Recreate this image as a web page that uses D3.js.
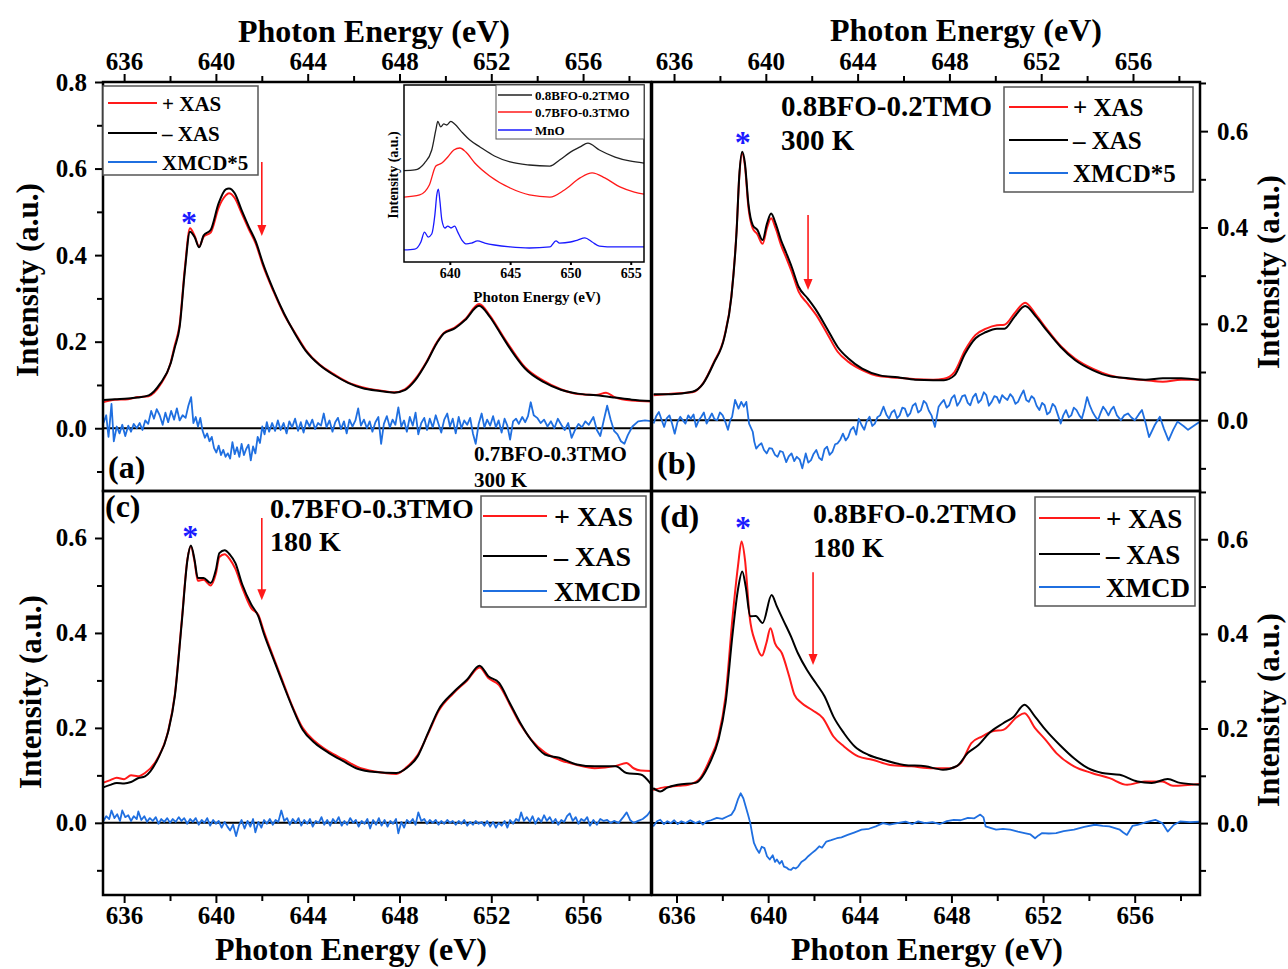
<!DOCTYPE html>
<html>
<head>
<meta charset="utf-8">
<script src="https://cdn.jsdelivr.net/npm/d3@7"></script>
<style>
	body { margin: 0; background: #fff; }
	svg { display: block; }
</style>
</head>
<body>
<svg id="fig" width="1288" height="969"></svg>
<script>
(function() {
	'use strict';

	// ---- tick values and labels ----
	var energyTicks = [636, 640, 644, 648, 652, 656];
	var energyMinor = [638, 642, 646, 650, 654, 658];
	var intensityTicks = [0, 0.2, 0.4, 0.6, 0.8];
	var intensityMinor = [-0.1, 0.1, 0.3, 0.5, 0.7];
	var insetTicks = [640, 645, 650, 655];
	var axisTitle = 'Photon Energy (eV)';
	var yTitle = 'Intensity (a.u.)';
	var panelLabels = ['(a)', '(b)', '(c)', '(d)'];
	var sampleNames = ['0.7BFO-0.3TMO', '0.8BFO-0.2TMO', '0.7BFO-0.3TMO', '0.8BFO-0.2TMO'];
	var temperatures = ['300 K', '300 K', '180 K', '180 K'];
	var seriesNames = [
		['+ XAS', '\u2013 XAS', 'XMCD*5'],
		['+ XAS', '\u2013 XAS', 'XMCD*5'],
		['+ XAS', '\u2013 XAS', 'XMCD'],
		['+ XAS', '\u2013 XAS', 'XMCD']
	];
	var insetNames = ['0.8BFO-0.2TMO', '0.7BFO-0.3TMO', 'MnO'];

	// Mn2+ peak (*) and shoulder (arrow) markers: [energy, value]
	var starMarks = [[638.83, 0.486], [638.99, 0.586], [638.88, 0.613], [638.9, 0.634]];
	var arrowMarks = [[642.0, 0.615, 0.444], [641.84, 0.426, 0.27], [642.0, 0.642, 0.469], [641.96, 0.53, 0.334]];

	// ---- (a) 0.7BFO-0.3TMO, 300 K ----
	var aPlus = [[635.07,0.06],[635.6,0.066],[636.17,0.067],[636.6,0.072],[637.07,0.074],[637.3,0.082],[637.57,0.1],[638.03,0.152],[638.2,0.19],[638.42,0.24],[638.65,0.372],[638.87,0.462],[639.07,0.445],[639.27,0.42],[639.47,0.443],[639.77,0.452],[640.12,0.51],[640.43,0.538],[640.57,0.543],[640.82,0.532],[641.12,0.497],[641.43,0.46],[641.74,0.426],[642.05,0.376],[642.51,0.316],[642.97,0.263],[643.44,0.221],[643.9,0.182],[644.52,0.147],[645.14,0.125],[645.76,0.106],[646.37,0.095],[647.15,0.087],[647.77,0.083],[648.23,0.09],[648.69,0.114],[649.16,0.152],[649.62,0.198],[649.93,0.22],[650.39,0.232],[650.86,0.252],[651.47,0.287],[651.94,0.26],[652.4,0.222],[652.87,0.184],[653.47,0.141],[654.27,0.11],[655.03,0.09],[655.77,0.079],[656.57,0.077],[657.0,0.082],[657.37,0.072],[658.12,0.064],[659.0,0.062]];
	var aMinus = [[635.07,0.065],[635.6,0.067],[636.17,0.069],[636.6,0.071],[637.07,0.076],[637.3,0.085],[637.57,0.103],[638.03,0.15],[638.2,0.185],[638.42,0.234],[638.65,0.365],[638.87,0.454],[639.07,0.442],[639.27,0.418],[639.47,0.446],[639.77,0.458],[640.12,0.52],[640.43,0.552],[640.57,0.554],[640.82,0.543],[641.12,0.504],[641.43,0.466],[641.74,0.431],[642.05,0.381],[642.51,0.319],[642.97,0.265],[643.44,0.219],[643.9,0.18],[644.52,0.146],[645.14,0.123],[645.76,0.105],[646.37,0.093],[647.15,0.086],[647.77,0.082],[648.23,0.088],[648.69,0.111],[649.16,0.15],[649.62,0.196],[649.93,0.219],[650.39,0.23],[650.86,0.25],[651.47,0.283],[651.94,0.257],[652.4,0.219],[652.87,0.18],[653.47,0.138],[654.27,0.107],[655.03,0.089],[655.77,0.08],[656.57,0.076],[657.37,0.071],[658.12,0.066],[659.0,0.063]];
	var aXmcd = [[635.1,0.012],[635.22,0.03],[635.32,-0.02],[635.45,0.056],[635.55,-0.03],[635.68,0.004],[635.8,-0.012],[635.92,0.008],[636.05,-0.018],[636.18,0.006],[636.3,-0.008],[636.42,0.01],[636.55,0],[636.68,0.012],[636.8,-0.004],[636.92,0.018],[637.05,0.01],[637.18,0.04],[637.3,0.022],[637.42,0.044],[637.55,0.03],[637.68,0.008],[637.8,0.036],[637.92,0.014],[638.05,0.04],[638.18,0.02],[638.3,0.046],[638.42,0.018],[638.55,0.03],[638.68,0.024],[638.8,0.052],[638.92,0.072],[639.02,0.012],[639.12,0.026],[639.22,0.004],[639.32,0.024],[639.42,-0.006],[639.52,-0.022],[639.62,-0.012],[639.72,-0.03],[639.82,-0.02],[639.92,-0.046],[640.02,-0.056],[640.12,-0.04],[640.22,-0.062],[640.32,-0.05],[640.42,-0.066],[640.52,-0.058],[640.62,-0.07],[640.72,-0.032],[640.82,-0.06],[640.92,-0.044],[641.02,-0.066],[641.12,-0.036],[641.22,-0.062],[641.32,-0.048],[641.42,-0.038],[641.52,-0.074],[641.62,-0.042],[641.72,-0.058],[641.82,-0.02],[641.92,-0.034],[642.02,0.004],[642.12,-0.014],[642.22,0.014],[642.32,-0.008],[642.45,0.012],[642.58,-0.006],[642.7,0.018],[642.82,-0.004],[642.95,0.012],[643.08,-0.012],[643.2,0.016],[643.32,0.002],[643.45,0.022],[643.58,-0.006],[643.7,0.014],[643.82,-0.01],[643.95,0.018],[644.08,0.004],[644.2,0.02],[644.32,-0.002],[644.45,0.012],[644.58,0.006],[644.7,0.034],[644.82,0.002],[644.95,0.018],[645.08,-0.008],[645.2,0.014],[645.32,0.024],[645.45,-0.002],[645.58,0.016],[645.7,-0.012],[645.82,0.02],[645.95,0.004],[646.08,0.018],[646.2,0.046],[646.32,0.006],[646.45,0.02],[646.58,0],[646.7,0.016],[646.82,-0.008],[646.95,0.014],[647.08,0.026],[647.2,-0.036],[647.32,0.01],[647.45,0.028],[647.58,0.002],[647.7,0.02],[647.82,0.008],[647.95,0.048],[648.08,0.004],[648.2,0.018],[648.32,-0.008],[648.45,0.026],[648.58,0.006],[648.7,0.036],[648.82,-0.014],[648.95,0.012],[649.08,0.024],[649.2,-0.004],[649.32,0.022],[649.45,0.002],[649.58,0.03],[649.7,0.01],[649.82,-0.01],[649.95,0.02],[650.08,0.034],[650.2,0.004],[650.32,0.022],[650.45,-0.012],[650.58,0.026],[650.7,0],[650.82,0.018],[650.95,0.008],[651.08,0.024],[651.2,-0.012],[651.32,-0.036],[651.45,0.01],[651.58,0.034],[651.7,0.002],[651.82,0.02],[651.95,0.006],[652.08,0.028],[652.2,0.002],[652.32,0.018],[652.45,-0.01],[652.58,0.022],[652.7,0.006],[652.82,-0.026],[652.95,0.016],[653.08,0.022],[653.2,0.01],[653.35,0.026],[653.48,0.014],[653.6,0.028],[653.72,0.06],[653.85,0.03],[654.0,0.024],[654.15,0.012],[654.3,0.02],[654.45,0.004],[654.6,0.016],[654.75,0],[654.9,0.022],[655.05,0.008],[655.2,-0.004],[655.35,0.012],[655.5,-0.022],[655.65,-0.004],[655.8,0.01],[655.95,0.002],[656.1,0.016],[656.25,0.008],[656.45,0.026],[656.6,-0.004],[656.75,-0.018],[656.9,0.018],[657.05,0.052],[657.2,0.02],[657.35,-0.006],[657.5,-0.014],[657.65,-0.03],[657.8,-0.036],[657.95,-0.016],[658.15,0.004],[658.4,0.016],[658.7,0.018],[659.0,0.016]];

	// ---- (b) 0.8BFO-0.2TMO, 300 K ----
	var bPlus = [[635.11,0.052],[635.88,0.055],[636.8,0.058],[637.27,0.077],[637.73,0.12],[638.2,0.175],[638.5,0.258],[638.73,0.398],[638.84,0.503],[638.97,0.553],[639.09,0.528],[639.24,0.442],[639.43,0.398],[639.63,0.386],[639.86,0.366],[640.05,0.399],[640.23,0.419],[640.43,0.398],[640.66,0.364],[640.9,0.336],[641.13,0.308],[641.43,0.267],[641.82,0.242],[642.2,0.218],[642.67,0.18],[643.13,0.142],[643.6,0.121],[644.2,0.104],[644.98,0.091],[645.75,0.088],[646.52,0.085],[647.29,0.084],[647.76,0.086],[648.22,0.1],[648.68,0.145],[649.14,0.177],[649.6,0.19],[650.07,0.197],[650.4,0.198],[650.84,0.222],[651.3,0.244],[651.77,0.219],[652.23,0.19],[652.85,0.154],[653.47,0.128],[654.24,0.107],[655.0,0.093],[655.8,0.086],[656.55,0.083],[657.3,0.08],[658.1,0.084],[658.95,0.084]];
	var bMinus = [[635.11,0.054],[635.88,0.054],[636.8,0.059],[637.27,0.076],[637.73,0.118],[638.2,0.173],[638.5,0.256],[638.73,0.395],[638.84,0.505],[638.97,0.557],[639.09,0.533],[639.24,0.45],[639.43,0.405],[639.63,0.395],[639.86,0.374],[640.05,0.408],[640.23,0.429],[640.43,0.408],[640.66,0.374],[640.9,0.346],[641.13,0.318],[641.43,0.277],[641.82,0.253],[642.2,0.228],[642.67,0.19],[643.13,0.152],[643.6,0.128],[644.2,0.107],[644.98,0.093],[645.75,0.089],[646.52,0.084],[647.29,0.083],[647.76,0.083],[648.22,0.093],[648.68,0.138],[649.14,0.17],[649.6,0.183],[650.07,0.19],[650.4,0.19],[650.84,0.215],[651.3,0.237],[651.77,0.215],[652.23,0.187],[652.85,0.152],[653.47,0.125],[654.24,0.104],[655.0,0.091],[655.8,0.087],[656.55,0.084],[657.3,0.087],[658.1,0.087],[658.95,0.083]];
	var bXmcd = [[635.11,-0.007],[635.22,0.008],[635.34,0.017],[635.45,0.002],[635.57,-0.014],[635.68,0.004],[635.8,0.01],[635.92,-0.008],[636.03,-0.028],[636.15,-0.004],[636.27,0.007],[636.38,0.0],[636.5,-0.007],[636.62,0.01],[636.73,0.003],[636.85,0.012],[636.96,-0.014],[637.08,0.0],[637.19,0.007],[637.3,0.016],[637.42,-0.007],[637.54,0.004],[637.65,0.014],[637.76,0.002],[637.88,0],[638.0,0.016],[638.12,0.01],[638.24,-0.004],[638.35,-0.02],[638.45,0.0],[638.53,0.007],[638.66,0.042],[638.81,0.024],[638.93,0.038],[639.04,0.028],[639.15,0.038],[639.27,-0.007],[639.43,-0.024],[639.5,-0.045],[639.58,-0.059],[639.7,-0.052],[639.81,-0.048],[639.92,-0.062],[640.04,-0.069],[640.15,-0.058],[640.27,-0.059],[640.4,-0.072],[640.51,-0.076],[640.62,-0.064],[640.74,-0.066],[640.89,-0.087],[641.0,-0.075],[641.12,-0.069],[641.24,-0.085],[641.35,-0.076],[641.48,-0.082],[641.59,-0.1],[641.74,-0.069],[641.85,-0.088],[641.97,-0.083],[642.08,-0.07],[642.2,-0.062],[642.32,-0.078],[642.44,-0.083],[642.56,-0.06],[642.67,-0.055],[642.78,-0.072],[642.9,-0.066],[643.02,-0.05],[643.13,-0.048],[643.25,-0.04],[643.36,-0.028],[643.48,-0.042],[643.59,-0.035],[643.7,-0.02],[643.82,-0.014],[643.94,-0.03],[644.05,0.003],[644.17,-0.01],[644.29,-0.02],[644.4,-0.002],[644.52,0.007],[644.64,-0.012],[644.75,-0.007],[644.86,0.006],[644.98,0.01],[645.13,0.028],[645.25,0.012],[645.37,0.003],[645.48,0.016],[645.6,0.021],[645.72,0.004],[645.83,0.01],[645.95,0.026],[646.06,0.024],[646.18,0.008],[646.29,0.014],[646.4,0.03],[646.52,0.035],[646.64,0.016],[646.76,0.021],[646.88,0.04],[646.99,0.035],[647.1,0.02],[647.22,0.01],[647.37,-0.014],[647.53,0.028],[647.65,0.036],[647.76,0.042],[647.88,0.026],[647.99,0.031],[648.1,0.046],[648.22,0.052],[648.34,0.03],[648.45,0.038],[648.56,0.05],[648.68,0.052],[648.8,0.036],[648.91,0.031],[649.03,0.048],[649.15,0.055],[649.26,0.036],[649.38,0.042],[649.5,0.058],[649.61,0.052],[649.72,0.03],[649.84,0.038],[649.96,0.05],[650.07,0.048],[650.18,0.036],[650.3,0.052],[650.42,0.046],[650.53,0.042],[650.65,0.054],[650.76,0.048],[650.88,0.034],[650.99,0.038],[651.1,0.05],[651.23,0.062],[651.35,0.042],[651.46,0.038],[651.58,0.05],[651.69,0.045],[651.8,0.03],[651.92,0.021],[652.04,0.036],[652.15,0.031],[652.26,0.012],[652.38,0.017],[652.5,0.034],[652.61,0.028],[652.72,0.012],[652.85,-0.007],[652.96,0.01],[653.08,0.021],[653.2,0.006],[653.31,0.01],[653.42,0.026],[653.54,0.021],[653.66,0.01],[653.77,0.003],[653.88,0.022],[654.0,0.048],[654.12,0.03],[654.24,0.017],[654.35,0.008],[654.47,0],[654.58,0.014],[654.7,0.028],[654.82,0.02],[654.93,0.01],[655.05,0.022],[655.16,0.028],[655.3,0.01],[655.47,0],[655.62,0.01],[655.78,0.014],[655.92,0.006],[656.08,0],[656.25,0.012],[656.39,0.021],[656.55,-0.006],[656.7,-0.035],[656.95,-0.01],[657.17,0.007],[657.35,-0.018],[657.55,-0.042],[657.75,-0.02],[657.94,-0.003],[658.2,-0.012],[658.4,-0.02],[658.7,-0.01],[659.02,0]];

	// ---- (c) 0.7BFO-0.3TMO, 180 K ----
	var cPlus = [[635.06,0.084],[635.4,0.09],[635.68,0.095],[636.0,0.092],[636.3,0.1],[636.6,0.098],[636.91,0.105],[637.45,0.135],[637.91,0.192],[638.21,0.27],[638.51,0.425],[638.76,0.556],[638.91,0.582],[639.07,0.55],[639.21,0.51],[639.46,0.512],[639.77,0.5],[640.0,0.525],[640.15,0.56],[640.38,0.566],[640.61,0.555],[640.85,0.535],[641.15,0.495],[641.54,0.452],[641.85,0.438],[642.08,0.405],[642.46,0.355],[642.85,0.306],[643.31,0.248],[643.78,0.2],[644.31,0.172],[644.93,0.15],[645.55,0.134],[646.17,0.118],[646.94,0.108],[647.86,0.103],[648.33,0.118],[648.79,0.143],[649.25,0.188],[649.71,0.236],[650.33,0.272],[650.95,0.3],[651.49,0.327],[651.87,0.305],[652.34,0.29],[652.8,0.25],[653.26,0.208],[653.73,0.176],[654.34,0.148],[654.96,0.133],[655.73,0.122],[656.51,0.115],[657.43,0.12],[657.89,0.126],[658.2,0.115],[658.51,0.11],[658.97,0.109]];
	var cMinus = [[635.06,0.074],[635.4,0.08],[635.68,0.084],[636.0,0.083],[636.3,0.086],[636.6,0.094],[636.91,0.098],[637.45,0.133],[637.91,0.19],[638.21,0.267],[638.51,0.421],[638.76,0.554],[638.91,0.584],[639.07,0.554],[639.21,0.516],[639.46,0.516],[639.77,0.505],[640.0,0.533],[640.15,0.568],[640.38,0.574],[640.61,0.565],[640.85,0.547],[641.15,0.502],[641.54,0.46],[641.85,0.435],[642.08,0.4],[642.46,0.351],[642.85,0.302],[643.31,0.246],[643.78,0.196],[644.31,0.168],[644.93,0.147],[645.55,0.13],[646.17,0.114],[646.94,0.107],[647.86,0.105],[648.33,0.116],[648.79,0.14],[649.25,0.19],[649.71,0.239],[650.33,0.274],[650.95,0.302],[651.49,0.331],[651.87,0.309],[652.34,0.295],[652.8,0.253],[653.26,0.211],[653.73,0.175],[654.34,0.144],[654.96,0.137],[655.73,0.123],[656.51,0.119],[657.43,0.119],[657.89,0.105],[658.51,0.102],[658.97,0.081]];
	var cXmcd = [[635.1,0.004],[635.22,0.014],[635.35,0.008],[635.45,0.026],[635.58,0.01],[635.7,0.018],[635.82,0.004],[635.92,0.026],[636.05,0.012],[636.18,0.016],[636.3,0.004],[636.42,0.014],[636.55,0.008],[636.62,0.024],[636.75,0.006],[636.88,0.014],[637.0,0.002],[637.12,0.01],[637.25,0.004],[637.38,0.012],[637.5,-0.002],[637.62,0.008],[637.75,0.002],[637.88,0.01],[638.0,0],[638.12,0.008],[638.25,0.002],[638.38,0.012],[638.5,0.004],[638.62,0.01],[638.75,-0.002],[638.88,0.008],[639.0,0.002],[639.12,0.01],[639.25,-0.004],[639.38,0.006],[639.5,0],[639.62,0.01],[639.75,-0.006],[639.88,0.006],[640.0,-0.002],[640.12,0.004],[640.25,-0.01],[640.38,0.002],[640.5,-0.008],[640.62,-0.016],[640.75,-0.004],[640.88,-0.028],[641.0,-0.006],[641.12,0.006],[641.25,-0.012],[641.38,0.004],[641.5,-0.008],[641.62,0.008],[641.72,-0.02],[641.85,0.002],[641.98,-0.01],[642.1,0.006],[642.22,-0.002],[642.35,0.008],[642.48,-0.004],[642.6,0.006],[642.72,0.002],[642.85,0.026],[642.98,0.004],[643.1,0.01],[643.22,-0.004],[643.35,0.008],[643.48,0],[643.6,0.01],[643.72,-0.006],[643.85,0.006],[643.98,-0.002],[644.1,0.008],[644.22,-0.008],[644.35,0.004],[644.48,0],[644.6,0.012],[644.72,-0.004],[644.85,0.006],[644.98,-0.006],[645.1,0.008],[645.22,0],[645.35,0.012],[645.48,-0.006],[645.6,0.004],[645.72,-0.004],[645.85,0.01],[645.98,0],[646.1,0.006],[646.22,-0.008],[646.35,0.004],[646.48,-0.002],[646.6,0.008],[646.72,-0.012],[646.85,0.006],[646.98,-0.004],[647.1,0.01],[647.22,-0.006],[647.35,0.006],[647.48,-0.008],[647.6,0.004],[647.72,-0.002],[647.85,0.008],[647.95,-0.022],[648.08,0.002],[648.2,-0.01],[648.32,0.006],[648.45,0],[648.58,0.008],[648.7,-0.004],[648.82,0.022],[648.95,0.004],[649.08,0.008],[649.2,-0.002],[649.32,0.006],[649.45,0],[649.58,0.006],[649.7,-0.004],[649.82,0.004],[649.95,-0.002],[650.08,0.006],[650.2,0],[650.32,0.004],[650.45,-0.004],[650.58,0.004],[650.7,-0.002],[650.82,0.006],[650.95,-0.006],[651.08,0.002],[651.2,-0.004],[651.32,0.004],[651.45,-0.002],[651.58,0.002],[651.7,-0.006],[651.82,0.004],[651.95,-0.008],[652.08,0.002],[652.2,-0.01],[652.32,0],[652.45,-0.006],[652.58,0.004],[652.7,-0.01],[652.82,0.006],[652.95,-0.002],[653.08,0.008],[653.2,0.004],[653.3,0.022],[653.42,0.004],[653.55,0.012],[653.68,0.002],[653.8,0.014],[653.92,-0.002],[654.05,0.01],[654.18,0.002],[654.3,0.016],[654.42,0.004],[654.55,0.012],[654.68,0],[654.8,0.008],[654.92,-0.004],[655.05,0.006],[655.18,0.002],[655.3,0.014],[655.42,0.02],[655.55,0.004],[655.68,0.012],[655.8,-0.002],[655.92,0.008],[656.05,0.004],[656.18,0.012],[656.3,-0.006],[656.45,0.006],[656.6,-0.004],[656.75,0.008],[656.9,0.004],[657.05,0.006],[657.2,0],[657.35,0.004],[657.55,0],[657.75,0.012],[657.9,0.022],[658.05,0.006],[658.2,0],[658.4,0.004],[658.6,0.008],[658.8,0.016],[658.95,0.026]];

	// ---- (d) 0.8BFO-0.2TMO, 180 K ----
	var dPlus = [[634.98,0.07],[635.4,0.075],[635.75,0.077],[636.1,0.079],[636.52,0.081],[636.98,0.092],[637.45,0.134],[637.83,0.183],[638.14,0.268],[638.45,0.437],[638.68,0.542],[638.84,0.595],[638.99,0.556],[639.19,0.437],[639.46,0.38],[639.73,0.354],[639.92,0.38],[640.1,0.412],[640.3,0.38],[640.6,0.359],[640.92,0.31],[641.15,0.271],[641.46,0.254],[641.92,0.239],[642.39,0.222],[642.85,0.183],[643.31,0.162],[643.93,0.141],[644.55,0.134],[645.32,0.123],[646.25,0.12],[647.18,0.116],[647.95,0.116],[648.41,0.127],[648.87,0.169],[649.33,0.183],[649.8,0.194],[650.26,0.197],[650.88,0.225],[651.19,0.232],[651.65,0.201],[652.11,0.176],[652.58,0.148],[653.35,0.12],[654.12,0.106],[654.9,0.095],[655.67,0.081],[656.43,0.088],[657.2,0.088],[657.67,0.079],[658.9,0.083]];
	var dMinus = [[634.98,0.074],[635.29,0.067],[635.6,0.075],[636.06,0.081],[636.83,0.085],[637.45,0.127],[637.83,0.176],[638.14,0.254],[638.45,0.401],[638.68,0.493],[638.87,0.532],[639.02,0.5],[639.22,0.437],[639.46,0.438],[639.76,0.423],[640.15,0.482],[640.38,0.458],[640.69,0.426],[641.0,0.394],[641.3,0.359],[641.69,0.324],[642.08,0.296],[642.46,0.268],[642.85,0.225],[643.31,0.19],[643.78,0.162],[644.39,0.144],[645.01,0.134],[645.93,0.123],[646.86,0.12],[647.63,0.113],[648.25,0.121],[648.71,0.148],[649.18,0.165],[649.64,0.19],[650.26,0.211],[650.72,0.225],[651.19,0.25],[651.65,0.225],[652.11,0.197],[652.73,0.165],[653.35,0.137],[653.96,0.116],[654.58,0.106],[655.35,0.102],[656.12,0.088],[656.74,0.085],[657.44,0.093],[657.98,0.085],[658.9,0.081]];
	var dXmcd = [[634.98,-0.007],[635.15,0.004],[635.29,0.007],[635.45,-0.002],[635.6,0.004],[635.75,0],[635.9,0.006],[636.05,-0.002],[636.21,0.004],[636.4,0],[636.6,0.006],[636.83,0],[637.0,0.004],[637.15,-0.003],[637.29,0.003],[637.5,0.006],[637.76,0.011],[638.0,0.009],[638.22,0.014],[638.4,0.018],[638.53,0.028],[638.68,0.05],[638.8,0.063],[638.92,0.052],[639.02,0.035],[639.12,0.018],[639.22,0],[639.3,-0.022],[639.38,-0.042],[639.5,-0.055],[639.61,-0.063],[639.72,-0.05],[639.84,-0.053],[639.95,-0.07],[640.07,-0.077],[640.2,-0.068],[640.3,-0.082],[640.38,-0.077],[640.5,-0.086],[640.6,-0.08],[640.69,-0.092],[640.8,-0.094],[640.9,-0.098],[641.0,-0.099],[641.1,-0.094],[641.2,-0.096],[641.31,-0.092],[641.45,-0.082],[641.61,-0.077],[641.75,-0.07],[641.92,-0.063],[642.05,-0.058],[642.23,-0.049],[642.35,-0.052],[642.54,-0.039],[642.75,-0.036],[643.0,-0.032],[643.2,-0.03],[643.47,-0.025],[643.75,-0.02],[644.08,-0.014],[644.4,-0.012],[644.7,-0.007],[645.01,0],[645.3,-0.003],[645.63,0],[646.0,0.003],[646.3,-0.002],[646.55,0.0035],[646.85,0],[647.17,0.002],[647.5,-0.002],[647.8,0.004],[648.1,0.007],[648.4,0.006],[648.72,0.011],[649.0,0.01],[649.26,0.018],[649.4,0.012],[649.49,-0.007],[649.7,-0.01],[649.95,-0.014],[650.25,-0.012],[650.57,-0.014],[650.9,-0.018],[651.19,-0.021],[651.45,-0.024],[651.65,-0.032],[651.8,-0.026],[651.96,-0.021],[652.25,-0.022],[652.57,-0.021],[652.9,-0.017],[653.35,-0.014],[653.8,-0.008],[654.27,-0.0035],[654.6,-0.006],[654.89,-0.007],[655.1,-0.01],[655.35,-0.014],[655.5,-0.02],[655.66,-0.025],[655.9,-0.006],[656.12,-0.004],[656.5,0.002],[656.9,0.007],[657.2,0],[657.44,-0.018],[657.7,-0.004],[657.98,0.0035],[658.4,0.002],[658.9,0.003]];

	// ---- inset: reference spectra (arb. units) ----
	var insetBfo82 = [[636.19,0.516],[637.1,0.52],[637.9,0.559],[638.5,0.633],[638.84,0.746],[639.0,0.794],[639.25,0.763],[639.5,0.78],[639.75,0.774],[640.08,0.794],[640.4,0.78],[641.0,0.734],[641.66,0.689],[642.5,0.65],[643.7,0.599],[645.0,0.565],[646.6,0.548],[648.3,0.542],[649.1,0.576],[650.0,0.621],[650.8,0.65],[651.45,0.672],[652.4,0.633],[653.7,0.593],[654.9,0.571],[656.1,0.559]];
	var insetBfo73 = [[636.19,0.367],[637.5,0.379],[638.3,0.435],[638.84,0.542],[639.34,0.559],[639.83,0.593],[640.33,0.633],[640.83,0.644],[641.33,0.621],[642.07,0.559],[643.3,0.486],[645.0,0.418],[646.6,0.379],[648.3,0.367],[649.5,0.407],[650.8,0.475],[651.8,0.503],[652.85,0.475],[654.1,0.424],[655.3,0.395],[656.1,0.384]];
	var insetMnO = [[636.19,0.068],[637.1,0.073],[637.6,0.113],[637.9,0.169],[638.2,0.141],[638.5,0.158],[638.76,0.266],[638.92,0.379],[639.05,0.412],[639.17,0.35],[639.34,0.237],[639.6,0.192],[639.83,0.203],[640.1,0.192],[640.4,0.203],[640.66,0.169],[641.0,0.124],[641.4,0.102],[641.8,0.107],[642.3,0.119],[642.9,0.107],[643.7,0.096],[645.0,0.085],[646.6,0.079],[648.3,0.085],[648.8,0.119],[649.1,0.107],[650.0,0.113],[650.6,0.124],[651.2,0.136],[651.8,0.113],[652.4,0.09],[653.7,0.085],[654.9,0.085],[656.1,0.085]];

	var SERIF = '"Liberation Serif", "Times New Roman", Times, serif';
	var RED = '#ff1a1a', BLACK = '#000', XBLUE = '#1f6fe0', STAR = '#1a1aff';

	// panel layout
	var panels = [
		{ left: 103, right: 651, top: 82, bottom: 491, xDomain: [635.08, 658.96], yDomain: [-0.145, 0.8],
			xSide: 'top', ySide: 'left', data: [aPlus, aMinus, aXmcd],
			label: [108, 478, 32], sample: [474, 461, 487, 21],
			legend: { box: [103, 86, 155, 89], x1: 108, x2: 157, tx: 162, rows: [103, 133, 162], size: 21 } },
		{ left: 652, right: 1200, top: 82, bottom: 491, xDomain: [635.04, 658.92], yDomain: [-0.147, 0.702],
			xSide: 'top', ySide: 'right', data: [bPlus, bMinus, bXmcd],
			label: [657, 474, 32], sample: [781, 116, 150, 29],
			legend: { box: [1004, 87, 189, 105], x1: 1009, x2: 1068, tx: 1073, rows: [107, 140, 173], size: 25 } },
		{ left: 103, right: 651, top: 491, bottom: 895, xDomain: [635.08, 658.96], yDomain: [-0.152, 0.699],
			xSide: 'bottom', ySide: 'left', data: [cPlus, cMinus, cXmcd],
			label: [105, 517, 32], sample: [270, 518, 551, 28],
			legend: { box: [481, 496, 165, 111], x1: 483, x2: 547, tx: 554, rows: [516, 556, 591], size: 28 } },
		{ left: 652, right: 1200, top: 491, bottom: 895, xDomain: [634.93, 658.85], yDomain: [-0.152, 0.702],
			xSide: 'bottom', ySide: 'right', data: [dPlus, dMinus, dXmcd],
			label: [660, 527, 32], sample: [813, 523, 557, 28],
			legend: { box: [1035, 497, 160, 109], x1: 1039, x2: 1100, tx: 1106, rows: [518, 554, 587], size: 27 } }
	];

	var svg = d3.select('#fig');
	var defs = svg.append('defs');
	svg.append('rect').attr('width', 1288).attr('height', 969).attr('fill', '#fff');

	function txt(sel, x, y, s, size, anchor) {
		return sel.append('text')
			.attr('x', x).attr('y', y)
			.attr('font-family', SERIF).attr('font-weight', 'bold')
			.attr('font-size', size)
			.attr('text-anchor', anchor || 'start')
			.attr('fill', '#000')
			.text(s);
	}

	function styleAxis(sel, size) {
		sel.select('.domain').remove();
		sel.selectAll('line').attr('stroke', '#000').attr('stroke-width', 2);
		sel.selectAll('text')
			.attr('font-family', SERIF).attr('font-weight', 'bold')
			.attr('font-size', size).attr('fill', '#000');
	}

	panels.forEach(function(p, i) {
		var x = d3.scaleLinear().domain(p.xDomain).range([p.left, p.right]);
		var y = d3.scaleLinear().domain(p.yDomain).range([p.bottom, p.top]);
		var g = svg.append('g').attr('class', 'panel');

		defs.append('clipPath').attr('id', 'clip' + i)
			.append('rect')
				.attr('x', p.left).attr('y', p.top)
				.attr('width', p.right - p.left).attr('height', p.bottom - p.top);

		var plot = g.append('g').attr('clip-path', 'url(#clip' + i + ')');

		// zero line
		plot.append('line')
			.attr('x1', p.left).attr('x2', p.right)
			.attr('y1', y(0)).attr('y2', y(0))
			.attr('stroke', '#000').attr('stroke-width', 2);

		var jagged = d3.line().x(function(d) { return x(d[0]); }).y(function(d) { return y(d[1]); });
		var smooth = d3.line().x(function(d) { return x(d[0]); }).y(function(d) { return y(d[1]); })
			.curve(d3.curveMonotoneX);

		plot.append('path').datum(p.data[2]).attr('d', jagged)
			.attr('fill', 'none').attr('stroke', XBLUE).attr('stroke-width', 1.8).attr('stroke-linejoin', 'round');
		plot.append('path').datum(p.data[0]).attr('d', smooth)
			.attr('fill', 'none').attr('stroke', RED).attr('stroke-width', 2);
		plot.append('path').datum(p.data[1]).attr('d', smooth)
			.attr('fill', 'none').attr('stroke', BLACK).attr('stroke-width', 2);

		// frame
		g.append('rect')
			.attr('x', p.left).attr('y', p.top)
			.attr('width', p.right - p.left).attr('height', p.bottom - p.top)
			.attr('fill', 'none').attr('stroke', '#000').attr('stroke-width', 2.5);

		// energy axis
		var xPos = p.xSide === 'top' ? p.top : p.bottom;
		var xAxis = p.xSide === 'top' ? d3.axisTop(x) : d3.axisBottom(x);
		var xMinor = p.xSide === 'top' ? d3.axisTop(x) : d3.axisBottom(x);
		g.append('g').attr('transform', 'translate(0,' + xPos + ')')
			.call(xAxis.tickValues(energyTicks).tickSize(8).tickPadding(p.xSide === 'top' ? 4 : 3).tickFormat(d3.format('d')))
			.call(styleAxis, 25);
		g.append('g').attr('transform', 'translate(0,' + xPos + ')')
			.call(xMinor.tickValues(energyMinor).tickSize(6).tickFormat(''))
			.call(styleAxis, 25);

		// intensity axis
		var yMax = p.yDomain[1] + 1e-9;
		var yPos = p.ySide === 'left' ? p.left : p.right;
		var yAxis = p.ySide === 'left' ? d3.axisLeft(y) : d3.axisRight(y);
		var yMinor = p.ySide === 'left' ? d3.axisLeft(y) : d3.axisRight(y);
		g.append('g').attr('transform', 'translate(' + yPos + ',0)')
			.call(yAxis.tickValues(intensityTicks.filter(function(d) { return d <= yMax; }))
				.tickSize(8).tickPadding(p.ySide === 'left' ? 8 : 9).tickFormat(d3.format('.1f')))
			.call(styleAxis, 25);
		g.append('g').attr('transform', 'translate(' + yPos + ',0)')
			.call(yMinor.tickValues(intensityMinor.filter(function(d) { return d <= yMax && d >= p.yDomain[0]; }))
				.tickSize(6).tickFormat(''))
			.call(styleAxis, 25);

		// panel letter, sample and temperature
		txt(g, p.label[0], p.label[1], panelLabels[i], p.label[2]);
		txt(g, p.sample[0], p.sample[1], sampleNames[i], p.sample[3]);
		txt(g, p.sample[0], p.sample[2], temperatures[i], p.sample[3]);

		// Mn2+ peak marker
		txt(g, x(starMarks[i][0]), y(starMarks[i][1]) + 15, '*', 32, 'middle').attr('fill', STAR);

		// shoulder arrow
		var ax = x(arrowMarks[i][0]), ay1 = y(arrowMarks[i][1]), ay2 = y(arrowMarks[i][2]);
		g.append('line')
			.attr('x1', ax).attr('x2', ax).attr('y1', ay1).attr('y2', ay2 - 8)
			.attr('stroke', RED).attr('stroke-width', 1.6);
		g.append('path')
			.attr('d', 'M' + (ax - 4.5) + ',' + (ay2 - 11) + 'L' + (ax + 4.5) + ',' + (ay2 - 11) + 'L' + ax + ',' + ay2 + 'Z')
			.attr('fill', RED);

		// legend
		var L = p.legend;
		g.append('rect')
			.attr('x', L.box[0]).attr('y', L.box[1]).attr('width', L.box[2]).attr('height', L.box[3])
			.attr('fill', '#fff').attr('stroke', '#555').attr('stroke-width', 1.5);
		[RED, BLACK, XBLUE].forEach(function(c, k) {
			g.append('line')
				.attr('x1', L.x1).attr('x2', L.x2).attr('y1', L.rows[k]).attr('y2', L.rows[k])
				.attr('stroke', c).attr('stroke-width', 2);
			txt(g, L.tx, L.rows[k] + L.size * 0.36, seriesNames[i][k], L.size);
		});
	});

	// shared axis titles
	txt(svg, 374, 42, axisTitle, 32, 'middle');
	txt(svg, 966, 41, axisTitle, 32, 'middle');
	txt(svg, 351, 960, axisTitle, 32, 'middle');
	txt(svg, 927, 960, axisTitle, 32, 'middle');
	[[38, 280], [41, 692], [1279, 272], [1279, 710]].forEach(function(pos) {
		txt(svg, 0, 0, yTitle, 31, 'middle')
			.attr('transform', 'translate(' + pos[0] + ',' + pos[1] + ') rotate(-90)');
	});

	// ---- inset in panel (a) ----
	var inset = { left: 404, right: 644, top: 85, bottom: 262 };
	var ix = d3.scaleLinear().domain([636.2, 656.1]).range([inset.left, inset.right]);
	var iy = d3.scaleLinear().domain([0, 1]).range([inset.bottom, inset.top]);
	var ig = svg.append('g').attr('class', 'inset');
	ig.append('rect')
		.attr('x', inset.left).attr('y', inset.top)
		.attr('width', inset.right - inset.left).attr('height', inset.bottom - inset.top)
		.attr('fill', '#fff');
	var iline = d3.line().x(function(d) { return ix(d[0]); }).y(function(d) { return iy(d[1]); })
		.curve(d3.curveMonotoneX);
	[[insetBfo82, '#222'], [insetBfo73, RED], [insetMnO, '#1a1aff']].forEach(function(s) {
		ig.append('path').datum(s[0]).attr('d', iline)
			.attr('fill', 'none').attr('stroke', s[1]).attr('stroke-width', 1.3);
	});
	ig.append('rect')
		.attr('x', inset.left).attr('y', inset.top)
		.attr('width', inset.right - inset.left).attr('height', inset.bottom - inset.top)
		.attr('fill', 'none').attr('stroke', '#000').attr('stroke-width', 1.5);
	ig.append('g').attr('transform', 'translate(0,' + inset.bottom + ')')
		.call(d3.axisBottom(ix).tickValues(insetTicks).tickSize(3).tickPadding(3).tickFormat(d3.format('d')))
		.call(styleAxis, 14);
	txt(ig, 537, 302, axisTitle, 15, 'middle');
	txt(ig, 0, 0, yTitle, 14, 'middle')
		.attr('transform', 'translate(398,175) rotate(-90)');

	ig.append('rect')
		.attr('x', 496).attr('y', 85).attr('width', 148).attr('height', 54)
		.attr('fill', '#fff').attr('stroke', '#555').attr('stroke-width', 1);
	['#222', RED, '#1a1aff'].forEach(function(c, k) {
		var ry = [95, 112, 130][k];
		ig.append('line').attr('x1', 498).attr('x2', 532).attr('y1', ry).attr('y2', ry)
			.attr('stroke', c).attr('stroke-width', 1.3);
		txt(ig, 535, ry + 4.5, insetNames[k], 13);
	});
})();
</script>
</body>
</html>
